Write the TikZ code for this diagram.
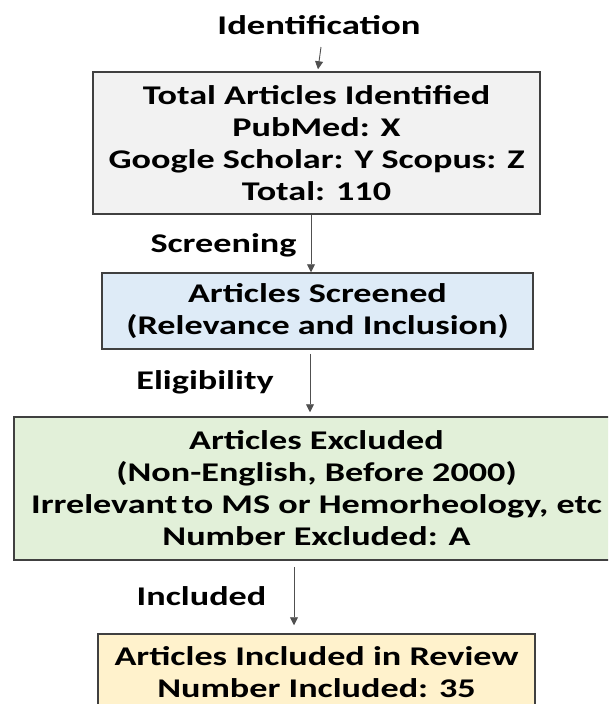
\documentclass[tikz,border=0pt]{standalone}
\usepackage{fontspec}
\usepackage{graphicx}
\setmainfont{Carlito}
\usetikzlibrary{arrows.meta}
\definecolor{boxline}{HTML}{404040}
\definecolor{arrline}{HTML}{505050}
\definecolor{fillgray}{HTML}{F2F2F2}
\definecolor{fillblue}{HTML}{DEEBF7}
\definecolor{fillgreen}{HTML}{E2F0D9}
\definecolor{fillyellow}{HTML}{FFF2CC}
\newcommand{\wl}[1]{\scalebox{1.34}[1]{#1}}
\tikzset{
  x=1pt, y=-1pt,
  stage/.style={draw=boxline, line width=1.5pt, align=center, inner sep=0pt,
    font=\bfseries\fontsize{27}{32}\selectfont, text=black},
  lbl/.style={font=\bfseries\fontsize{27}{32}\selectfont, text=black, inner sep=0pt},
  arr/.style={draw=arrline, line width=0.9pt, -{Triangle[length=8pt,width=8pt]}},
}
\begin{document}
\begin{tikzpicture}
\useasboundingbox (0,0) rectangle (608,704);
\clip (0,0) rectangle (608,704);
\node[lbl] (ident) at (319,25) {\scalebox{1.36}[1]{Identification}};
\coordinate (s0) at (321,47);
\node[stage, fill=fillgray, minimum width=447pt, minimum height=142pt] (b1) at (316.5,143)
  {\wl{Total Articles Identified}\\\wl{PubMed: X}\\\wl{Google Scholar: Y Scopus: Z}\\\wl{Total: 110}};
\node[stage, fill=fillblue, minimum width=431pt, minimum height=76pt] (b2) at (317.5,311)
  {\wl{Articles Screened}\\\wl{(Relevance and Inclusion)}};
\node[stage, fill=fillgreen, minimum width=605pt, minimum height=143pt] (b3) at (316.5,488.5)
  {\wl{Articles Excluded}\\\wl{(Non-English, Before 2000)}\\\wl{Irrelevant\hspace{0.12em}to MS or Hemorheology, etc}\\\wl{Number Excluded: A}};
\node[stage, fill=fillyellow, minimum width=437pt, minimum height=77pt] (b4) at (316.5,672.5)
  {\wl{Articles Included in Review}\\\wl{Number Included: 35}};
\node[lbl] (l2) at (223.5,245) {\wl{Screening}};
\node[lbl] (l3) at (205,382) {\wl{Eligibility}};
\node[lbl] (l4) at (201.5,596) {\wl{Included}};
\coordinate (x2) at (311,0);
\coordinate (x3) at (310,0);
\coordinate (x4) at (294,0);
\draw[arr] (s0) -- ([xshift=-3pt,yshift=2pt]b1.north -| s0);
\draw[arr] (b1.south -| x2) -- (b2.north -| x2);
\draw[arr] ([yshift=-4pt]b2.south -| x3) -- ([yshift=4pt]b3.north -| x3);
\draw[arr] ([yshift=-6pt]b3.south -| x4) -- ([yshift=8pt]b4.north -| x4);
\end{tikzpicture}
\end{document}
